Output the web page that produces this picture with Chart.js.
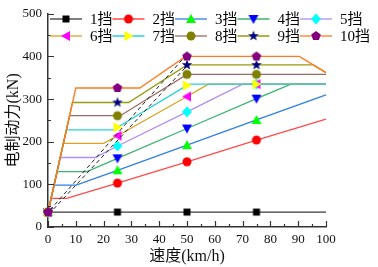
<!DOCTYPE html>
<html>
<head>
<meta charset="utf-8">
<script src="https://cdn.jsdelivr.net/npm/chart.js@4.4.1/dist/chart.umd.min.js"></script>
<style>
  html, body { margin: 0; padding: 0; background: #fff; }
  #wrap { width: 378px; height: 267px; }
</style>
</head>
<body>
<div id="wrap"><canvas id="chart" width="378" height="267"></canvas></div>
<script>
const gearNames = ["1挡", "2挡", "3挡", "4挡", "5挡", "6挡", "7挡", "8挡", "9挡", "10挡"]
const lineColors = ["#3a3a3a", "#ff4a4a", "#2f7fe8", "#3cb46e", "#b58cf0", "#dba21e", "#28d2d2", "#9a6a64", "#9a9a10", "#ff7a20"]
const markerColors = ["#000000", "#ff0000", "#00ff00", "#0000ff", "#00ffff", "#ff00ff", "#ffff00", "#808000", "#000080", "#800080"]
const markerShapes = ["square", "circle", "triUp", "triDown", "diamond", "triLeft", "triRight", "circle", "star", "pentagon"]
const markerSpeeds = [0, 25, 50, 75]

// speed (km/h) and braking force (kN) break points, one pair of arrays per gear
const gear1Speed = [0, 25, 50, 75, 100]
const gear1Force = [35, 35, 35, 35, 35]
const gear2Speed = [0, 1.1, 6.7, 25, 50, 75, 100]
const gear2Force = [35, 67, 67, 103, 153, 204, 253]
const gear3Speed = [0, 2.2, 10.1, 25, 50, 75, 100]
const gear3Force = [35, 98, 98, 133, 192, 251, 310]
const gear4Speed = [0, 3.3, 14, 25, 50, 75, 87.4, 100]
const gear4Force = [35, 130, 130, 161, 231, 301, 335, 335]
const gear5Speed = [0, 4.4, 17, 25, 50, 70, 75, 100]
const gear5Force = [35, 163, 163, 190, 270, 335, 335, 335]
const gear6Speed = [0, 5.5, 20, 25, 50, 57.7, 75, 100]
const gear6Force = [35, 196, 196, 214, 306, 335, 335, 335]
const gear7Speed = [0, 6.6, 23.5, 25, 50, 51, 75, 100]
const gear7Force = [35, 228, 228, 234, 332, 335, 335, 335]
const gear8Speed = [0, 7.8, 25, 26, 50, 75, 100]
const gear8Force = [35, 261, 261, 261, 358, 358, 358]
const gear9Speed = [0, 8.8, 25, 29, 50, 75, 95.4, 100]
const gear9Force = [35, 292, 292, 292, 380, 380, 380, 362]
const gear10Speed = [0, 10, 25, 33, 49.5, 50, 75, 90.4, 100]
const gear10Force = [35, 326, 326, 326, 400, 400, 400, 400, 362]

const gearSpeeds = [gear1Speed, gear2Speed, gear3Speed, gear4Speed, gear5Speed, gear6Speed, gear7Speed, gear8Speed, gear9Speed, gear10Speed]
const gearForces = [gear1Force, gear2Force, gear3Force, gear4Force, gear5Force, gear6Force, gear7Force, gear8Force, gear9Force, gear10Force]

// two dashed guide lines
const dashASpeed = [0.8, 49]
const dashAForce = [40, 398]
const dashBSpeed = [2, 50]
const dashBForce = [42, 378]

const xTicks = [0, 10, 20, 30, 40, 50, 60, 70, 80, 90, 100]
const yTicks = [0, 100, 200, 300, 400, 500]

const serif = "'Liberation Serif', 'Noto Sans CJK SC', serif"

function makeMarker(shape, color) {
  const size = 14
  const c = document.createElement("canvas")
  c.width = size
  c.height = size
  const g = c.getContext("2d")
  g.translate(size / 2, size / 2)
  g.fillStyle = color
  g.beginPath()
  const poly = pts => {
    g.moveTo(pts[0][0], pts[0][1])
    pts.slice(1).forEach(p => g.lineTo(p[0], p[1]))
    g.closePath()
  }
  if (shape === "square") g.rect(-3.5, -3.5, 7, 7)
  else if (shape === "circle") g.arc(0, 0, 4.5, 0, Math.PI * 2)
  else if (shape === "triUp") poly([[0, -5], [5, 4], [-5, 4]])
  else if (shape === "triDown") poly([[0, 5], [5, -4], [-5, -4]])
  else if (shape === "triLeft") poly([[-5, 0], [4, -5], [4, 5]])
  else if (shape === "triRight") poly([[5, 0], [-4, -5], [-4, 5]])
  else if (shape === "diamond") poly([[0, -5.5], [5, 0], [0, 5.5], [-5, 0]])
  else if (shape === "star") {
    const pts = []
    for (let i = 0; i < 10; i++) {
      const r = i % 2 === 0 ? 5.5 : 2.3
      const a = -Math.PI / 2 + i * Math.PI / 5
      pts.push([r * Math.cos(a), r * Math.sin(a)])
    }
    poly(pts)
  } else if (shape === "pentagon") {
    const pts = []
    for (let i = 0; i < 5; i++) {
      const a = -Math.PI / 2 + i * 2 * Math.PI / 5
      pts.push([5 * Math.cos(a), 5 * Math.sin(a)])
    }
    poly(pts)
  }
  g.fill()
  return c
}

const markers = markerShapes.map((s, i) => makeMarker(s, markerColors[i]))

const datasets = gearNames.map((name, i) => {
  const speeds = gearSpeeds[i]
  return {
    label: name,
    data: speeds.map((v, j) => ({ x: v, y: gearForces[i][j] })),
    borderColor: lineColors[i],
    backgroundColor: markerColors[i],
    borderWidth: 1.3,
    pointStyle: markers[i],
    pointRadius: speeds.map(v => markerSpeeds.includes(v) ? 4 : 0),
    pointHoverRadius: 0,
    order: 10 - i,
    clip: false,
  }
})

datasets.push({
  label: "dashA",
  data: dashASpeed.map((v, j) => ({ x: v, y: dashAForce[j] })),
  borderColor: "#222",
  borderWidth: 1,
  borderDash: [4, 3],
  pointRadius: 0,
  order: -1,
})
datasets.push({
  label: "dashB",
  data: dashBSpeed.map((v, j) => ({ x: v, y: dashBForce[j] })),
  borderColor: "#222",
  borderWidth: 1,
  borderDash: [4, 3],
  pointRadius: 0,
  order: -1,
})

// small ticks pointing into the plot, majors and minors
const innerTicks = {
  id: "innerTicks",
  afterDatasetsDraw(chart) {
    const ctx = chart.ctx
    const area = chart.chartArea
    const xs = chart.scales.x
    const ys = chart.scales.y
    ctx.save()
    ctx.strokeStyle = "#333"
    ctx.lineWidth = 1.2
    ctx.beginPath()
    for (let v = 0; v <= 100; v += 5) {
      const px = Math.round(xs.getPixelForValue(v)) + 0.5
      const len = v % 10 === 0 ? 6 : 3
      ctx.moveTo(px, area.bottom)
      ctx.lineTo(px, area.bottom - len)
    }
    for (let f = 0; f <= 500; f += 50) {
      const py = Math.round(ys.getPixelForValue(f)) + 0.5
      const len = f % 100 === 0 ? 6 : 3
      ctx.moveTo(area.left, py)
      ctx.lineTo(area.left + len, py)
    }
    ctx.stroke()
    ctx.restore()
  }
}

// legend drawn inside the plot: line sample, marker, label
const gearLegend = {
  id: "gearLegend",
  afterDraw(chart) {
    const ctx = chart.ctx
    ctx.save()
    ctx.font = "15px " + serif
    ctx.textBaseline = "middle"
    ctx.fillStyle = "#000"
    gearNames.forEach((name, i) => {
      const col = i % 5
      const row = Math.floor(i / 5)
      const x0 = 50 + col * 62.5
      const y = 19 + row * 17
      ctx.strokeStyle = lineColors[i]
      ctx.lineWidth = 1.3
      ctx.beginPath()
      ctx.moveTo(x0, y)
      ctx.lineTo(x0 + 32, y)
      ctx.stroke()
      const m = markers[i]
      ctx.drawImage(m, x0 + 16 - m.width / 2, y - m.height / 2)
      ctx.fillText(name, x0 + 40, y + 1)
    })
    ctx.restore()
  }
}

new Chart(document.getElementById("chart"), {
  type: "line",
  data: { datasets: datasets },
  options: {
    responsive: false,
    animation: false,
    devicePixelRatio: 1,
    layout: { padding: { left: 0, right: 52, top: 8, bottom: 0 } },
    plugins: {
      legend: { display: false },
      tooltip: { enabled: false },
    },
    scales: {
      x: {
        type: "linear",
        min: 0,
        max: 100,
        afterBuildTicks: scale => { scale.ticks = xTicks.map(v => ({ value: v })) },
        afterFit: scale => { scale.height = 40 },
        grid: { display: true, drawOnChartArea: false, drawTicks: false },
        border: { display: true, color: "#333", width: 1.5 },
        ticks: { padding: 5, color: "#111", font: { family: serif, size: 13 }, maxRotation: 0 },
        title: { display: true, text: "速度(km/h)", color: "#111", font: { family: serif, size: 16 }, padding: { top: 0, bottom: 1 } },
      },
      y: {
        type: "linear",
        min: 0,
        max: 500,
        afterBuildTicks: scale => { scale.ticks = yTicks.map(v => ({ value: v })) },
        afterFit: scale => { scale.width = 48 },
        grid: { display: true, drawOnChartArea: false, drawTicks: false },
        border: { display: true, color: "#333", width: 1.5 },
        ticks: { padding: 6, color: "#111", font: { family: serif, size: 13 } },
        title: { display: true, text: "电制动力(kN)", color: "#111", font: { family: serif, size: 16 }, padding: { top: 4, bottom: 0 } },
      },
    },
  },
  plugins: [innerTicks, gearLegend],
})
</script>
</body>
</html>
